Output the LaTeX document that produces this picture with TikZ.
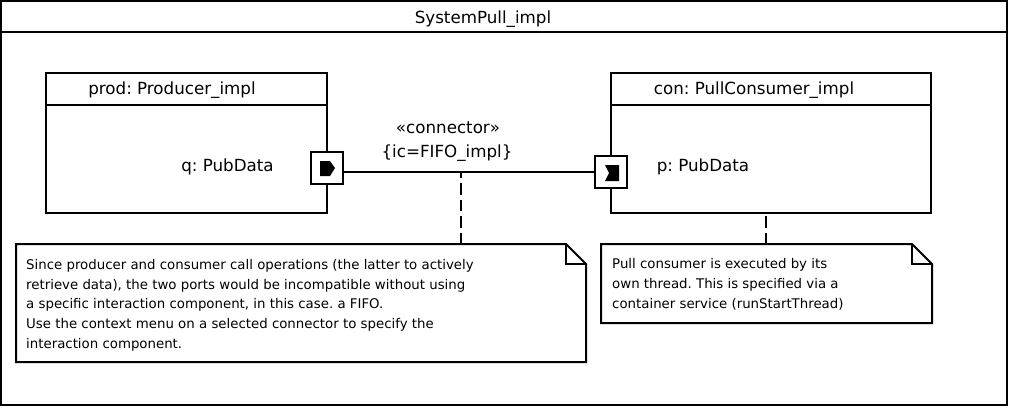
\documentclass[tikz,border=0pt]{standalone}
\usepackage{fontspec}
\setmainfont{DejaVu Sans}
\frenchspacing
\newcommand{\notefold}[1]{%
\draw[thick line] ([xshift=-20pt]#1.north east) -- ([xshift=-20pt,yshift=-20pt]#1.north east) -- ([yshift=-20pt]#1.north east);
\draw[thick line] (#1.north west) -- ([xshift=-20pt]#1.north east) -- ([yshift=-20pt]#1.north east) -- (#1.south east) -- (#1.south west) -- cycle;
}
\tikzset{
thick line/.style={line width=2pt, black},
link line/.style={thick line, dash pattern=on 11.5pt off 5pt},
partbox/.style={draw, line width=2pt, rectangle, inner sep=0pt, outer sep=0pt, anchor=north west},
portbox/.style={draw, line width=2pt, fill=white, rectangle, inner sep=0pt, outer sep=0pt, minimum size=32pt},
notebox/.style={rectangle, inner sep=0pt, outer sep=0pt, anchor=north west},
label16/.style={font=\fontsize{16.7}{17}\selectfont, inner sep=0pt},
notetext/.style={font=\fontsize{13.33}{19.8}\selectfont, align=left, inner sep=0pt, anchor=north west},
}
\begin{document}
\begin{tikzpicture}[x=1pt,y=-1pt]
\useasboundingbox (0,0) rectangle (1009,408);
% frame
\node[partbox, minimum width=1006pt, minimum height=404pt] (frame) at (1,1) {};
\draw[thick line] ([yshift=-31pt]frame.north west) -- ([yshift=-31pt]frame.north east);
\node[label16] (frametitle) at (483,19) {SystemPull\_impl};
% parts
\node[partbox, minimum width=281pt, minimum height=140pt] (prod) at (46,72.5) {};
\node[partbox, minimum width=320pt, minimum height=140pt] (con) at (611,72.5) {};
\draw[thick line] ([yshift=-32pt]prod.north west) -- ([yshift=-32pt]prod.north east);
\draw[thick line] ([yshift=-32pt]con.north west) -- ([yshift=-32pt]con.north east);
\node[label16] (prodtitle) at (172,90) {prod: Producer\_impl};
\node[label16] (contitle) at (754,90) {con: PullConsumer\_impl};
% ports
\node[portbox] (qport) at (327,168) {};
\node[portbox] (pport) at (610.5,172) {};
\node[label16] (qlabel) at (227.5,167) {q: PubData};
\node[label16] (plabel) at (703,167) {p: PubData};
\fill (320,161) -- (330,161) -- (335,168) -- (330,176) -- (320,176) -- cycle;
\fill (605,165) -- (619,165) -- (619,181) -- (605,181) -- (609,173) -- cycle;
% connector
\coordinate (qout) at (qport.east |- pport.west);
\draw[thick line] (qout) -- (pport.west);
\node[label16] (stereo) at (448,128) {«connector»};
\node[label16] (icprop) at (447,153) {\{ic=FIFO\_impl\}};
% notes
\node[notebox, minimum width=570pt, minimum height=118pt] (notea) at (16,244) {};
\node[notebox, minimum width=331pt, minimum height=79pt] (noteb) at (601,244) {};
\notefold{notea}
\notefold{noteb}
\node[notetext] (noteatext) at (26,259) {Since producer and consumer call operations (the latter to actively\\retrieve data), the two ports would be incompatible without using\\a specific interaction component, in this case. a FIFO.\\Use the context menu on a selected connector to specify the\\interaction component.};
\node[notetext] (notebtext) at (612,258.5) {Pull consumer is executed by its\\own thread. This is specified via a\\container service (runStartThread)};
\coordinate (connmid) at (461,172);
\coordinate (conbase) at (766,212.5);
\draw[link line] (connmid |- notea.north) -- (connmid);
\draw[link line] (conbase |- noteb.north) -- (conbase);
\end{tikzpicture}
\end{document}
